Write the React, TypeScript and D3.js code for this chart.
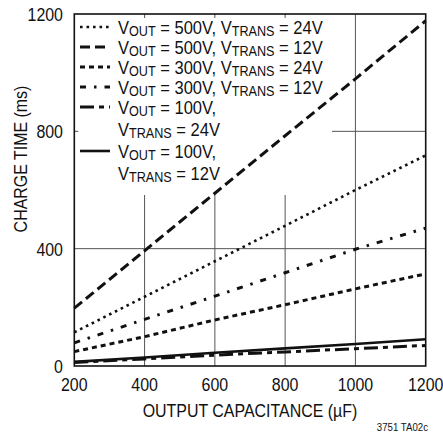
import React from "react";
import * as d3 from "d3";

const capacitance = [200, 400, 600, 800, 1000, 1200];
const v500t24 = [115, 236, 357, 478, 600, 718];
const v500t12 = [197, 393, 589, 785, 979, 1177];
const v300t24 = [49, 100, 157, 209, 263, 314];
const v300t12 = [79, 159, 238, 318, 398, 470];
const v100t24 = [12, 24, 37, 48, 59, 70];
const v100t12 = [14, 29, 45, 60, 75, 91];

const xTicks = [200, 400, 600, 800, 1000, 1200];
const yTicks = [0, 400, 800, 1200];

const seriesList = [
  { vout: "500V", vtrans: "24V", values: v500t24, dash: "2.6,3.9", width: 2.6, split: false },
  { vout: "500V", vtrans: "12V", values: v500t12, dash: "10,5", width: 3, split: false },
  { vout: "300V", vtrans: "24V", values: v300t24, dash: "5,4", width: 3, split: false },
  { vout: "300V", vtrans: "12V", values: v300t12, dash: "6,8,2.5,8", width: 3, split: false },
  { vout: "100V", vtrans: "24V", values: v100t24, dash: "14,5,5,5", width: 3, split: true },
  { vout: "100V", vtrans: "12V", values: v100t12, dash: null, width: 2.6, split: true },
];

const FONT = "'Liberation Sans', Arial, sans-serif";

function T({ x, y, size, anchor, rotate, sx, children }: any) {
  const tr = `translate(${x},${y})${rotate ? ` rotate(${rotate})` : ""} scale(${sx || 0.84},1)`;
  return (
    <text transform={tr} fontSize={size} textAnchor={anchor || "start"} fill="#111">{children}</text>
  );
}

export default function App() {
  const W = 443, H = 433;
  const left = 74.3, right = 425.7, top = 14, bottom = 366;
  const x = d3.scaleLinear().domain([200, 1200]).range([left, right]);
  const y = d3.scaleLinear().domain([0, 1200]).range([bottom, top]);
  const line = d3.line<number>().x((_, i) => x(capacitance[i])).y((d) => y(d));

  const legX0 = 80, legX1 = 110, legText = 118;
  const rowBase = [34, 54, 74, 94, 114, 136, 158, 180];
  const rowsIndex = [0, 1, 2, 3, 4, 6];
  const LS = 19;
  const LSX = 0.87;

  const sub = (s: string) => (
    <tspan fontSize={14.5} dy={2}>{s}</tspan>
  );

  return (
    <svg width={W} height={H} style={{ position: "absolute", left: 0, top: 0 }} fontFamily={FONT}>
      <rect x={0} y={0} width={W} height={H} fill="#fff" />
      {xTicks.slice(1, -1).map((t) => (
        <line key={"gx" + t} x1={x(t)} x2={x(t)} y1={top} y2={bottom} stroke="#555" strokeWidth={1} />
      ))}
      {yTicks.slice(1, -1).map((t) => (
        <line key={"gy" + t} x1={left} x2={right} y1={y(t)} y2={y(t)} stroke="#555" strokeWidth={1} />
      ))}
      <rect x={left + 1} y={top + 1} width={332 - left - 1} height={194 - top} fill="#fff" />
      {xTicks.slice(1, 4).map((t) => (
        <line key={"tx" + t} x1={x(t)} x2={x(t)} y1={top} y2={top + 4} stroke="#555" strokeWidth={1} />
      ))}
      <line x1={left} x2={left + 4} y1={y(800)} y2={y(800)} stroke="#555" strokeWidth={1} />
      {seriesList.map((s, i) => (
        <path key={"s" + i} d={line(s.values) || ""} fill="none" stroke="#111" strokeWidth={s.width}
          strokeDasharray={s.dash || undefined} />
      ))}
      <rect x={left} y={top} width={right - left} height={bottom - top} fill="none" stroke="#111" strokeWidth={1.6} />
      {seriesList.map((s, i) => {
        const r = rowsIndex[i];
        const b = rowBase[r];
        return (
          <g key={"l" + i}>
            <line x1={legX0} x2={legX1} y1={b - 7} y2={b - 7} stroke="#111" strokeWidth={s.width}
              strokeDasharray={s.dash || undefined} />
            {s.split ? (
              <>
                <T x={legText} y={b} size={LS} sx={LSX}>
                  V{sub("OUT")}<tspan dy={-2}> = {s.vout},</tspan>
                </T>
                <T x={legText} y={rowBase[r + 1]} size={LS} sx={LSX}>
                  V{sub("TRANS")}<tspan dy={-2}> = {s.vtrans}</tspan>
                </T>
              </>
            ) : (
              <T x={legText} y={b} size={LS} sx={LSX}>
                V{sub("OUT")}<tspan dy={-2}> = {s.vout}, V</tspan>{sub("TRANS")}<tspan dy={-2}> = {s.vtrans}</tspan>
              </T>
            )}
          </g>
        );
      })}
      {yTicks.map((t) => (
        <T key={"yl" + t} x={63} y={y(t) + 7} size={19} anchor="end">{t}</T>
      ))}
      {xTicks.map((t) => (
        <T key={"xl" + t} x={x(t)} y={391} size={19} anchor="middle">{t}</T>
      ))}
      <T x={(left + right) / 2} y={417} size={19} anchor="middle">OUTPUT CAPACITANCE (µF)</T>
      <T x={27} y={159} size={19} anchor="middle" rotate={-90}>CHARGE TIME (ms)</T>
      <T x={428} y={431} size={11.5} anchor="end">3751 TA02c</T>
    </svg>
  );
}
